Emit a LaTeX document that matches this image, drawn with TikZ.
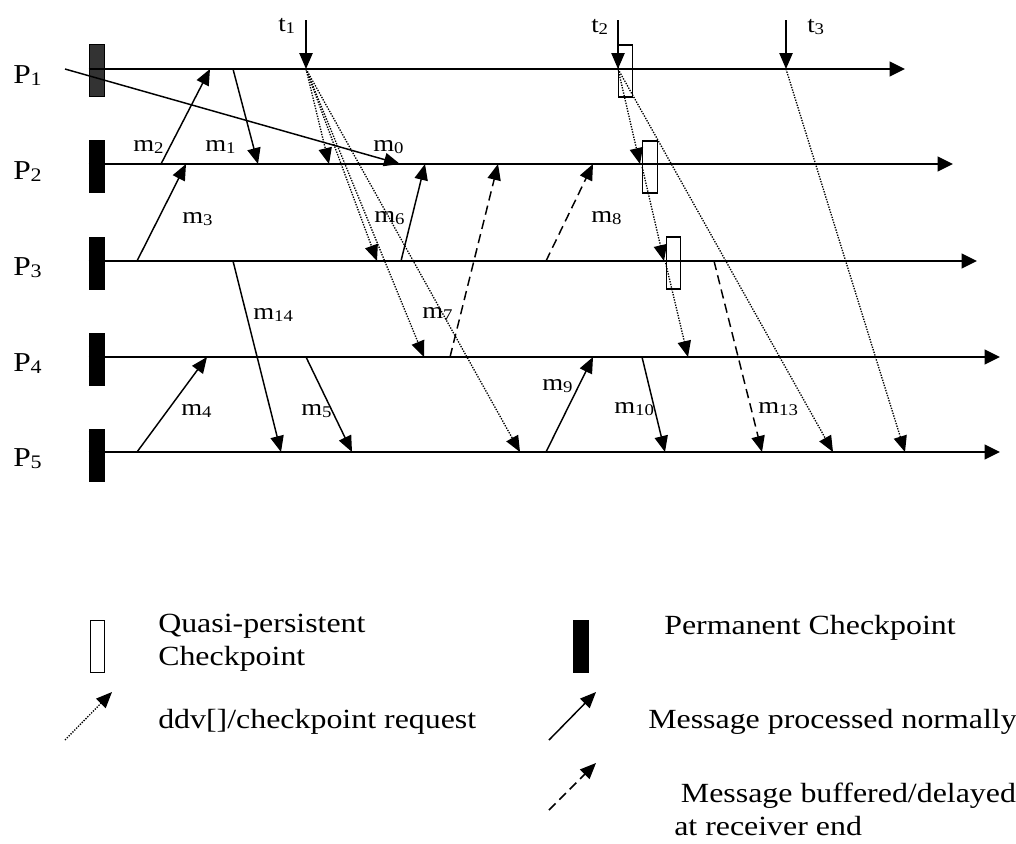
\documentclass[tikz,border=0pt]{standalone}
\usepackage{fontspec}
\setmainfont{Liberation Serif}[FakeStretch=1.15]
\usepackage{tikz}
\usetikzlibrary{arrows.meta}
\newcommand{\sbs}[1]{\raisebox{-0.1em}{\scalebox{0.7}{#1}}}
\tikzstyle{permcp} = [rectangle, draw=black, fill=black, minimum width=11.25pt, minimum height=39pt, inner sep=0pt]
\tikzstyle{quasicp} = [rectangle, draw=black, line width=0.8pt, fill=white, minimum width=11pt, minimum height=39pt, inner sep=0pt]
\tikzstyle{timeline} = [line width=1.5pt, -{Triangle[length=11.5pt,width=11pt]}]
\tikzstyle{arrow} = [line width=1.1pt, -{Triangle[length=12pt,width=10pt]}]
\tikzstyle{buffered} = [arrow, dash pattern=on 7pt off 4pt]
\tikzstyle{request} = [line width=1pt, dash pattern=on 1pt off 1pt, -{Triangle[length=12pt,width=10pt]}]
\tikzstyle{plabel} = [anchor=base west, inner sep=0pt, font=\fontsize{20.5}{24}\selectfont]
\tikzstyle{mlabel} = [anchor=base west, inner sep=0pt, font=\fontsize{17.5}{21}\selectfont]
\tikzstyle{legendtext} = [anchor=base west, inner sep=0pt, align=left, font=\fontsize{20.8}{24.75}\selectfont]

\begin{document}
\begin{tikzpicture}[x=0.75pt, y=-0.75pt]
    \useasboundingbox (0,0) rectangle (1016,843);
    \node (C1) [permcp, fill=black!80] at (96.5,70) {};
    \node (C2) [permcp] at (96.5,166) {};
    \node (C3) [permcp] at (96.5,263) {};
    \node (C4) [permcp] at (96.5,359) {};
    \node (C5) [permcp] at (96.5,455) {};
    \node (P1) [plabel] at (13,83) {P\sbs{1}};
    \node (P2) [plabel] at (13,179) {P\sbs{2}};
    \node (P3) [plabel] at (13,275) {P\sbs{3}};
    \node (P4) [plabel] at (13,371) {P\sbs{4}};
    \node (P5) [plabel] at (13,466) {P\sbs{5}};
    \coordinate (E1) at (905,69);
    \coordinate (E2) at (953,164);
    \coordinate (E3) at (977,261);
    \coordinate (E4) at (1000,357);
    \coordinate (E5) at (1000,452);
    \node (Q1) [quasicp] at (625.5,71) {};
    \node (Q2) [quasicp] at (650,167) {};
    \node (Q3) [quasicp] at (673.5,263) {};
    \draw [timeline] (C1.west |- E1) -- (E1);
    \draw [timeline] (C2.west |- E2) -- (E2);
    \draw [timeline] (C3.west |- E3) -- (E3);
    \draw [timeline] (C4.west |- E4) -- (E4);
    \draw [timeline] (C5.west |- E5) -- (E5);

    \coordinate (t1top) at (306,20);
    \coordinate (T1) at (306,69);
    \coordinate (t2top) at (618,20);
    \coordinate (T2) at (618,69);
    \coordinate (t3top) at (786,20);
    \coordinate (T3) at (786,69);
    \draw [arrow] (t1top) -- (T1);
    \draw [arrow] (t2top) -- (T2);
    \draw [arrow] (t3top) -- (T3);
    \node (lt1) [mlabel] at (278,31) {t\sbs{1}};
    \node (lt2) [mlabel] at (591,32) {t\sbs{2}};
    \node (lt3) [mlabel] at (807,32) {t\sbs{3}};

    \coordinate (m0s) at (65,69);    \coordinate (m0e) at (400,164);
    \coordinate (m1s) at (233,69);   \coordinate (m1e) at (258,164);
    \coordinate (m2s) at (161,164);  \coordinate (m2e) at (210,69);
    \coordinate (m3s) at (137,261);  \coordinate (m3e) at (186,164);
    \coordinate (m4s) at (137,452);  \coordinate (m4e) at (207,357);
    \coordinate (m5s) at (306,357);  \coordinate (m5e) at (352,452);
    \coordinate (m6s) at (401,261);  \coordinate (m6e) at (425,164);
    \coordinate (m7s) at (450,357);  \coordinate (m7e) at (498,164);
    \coordinate (m8s) at (546,261);  \coordinate (m8e) at (593,164);
    \coordinate (m9s) at (546,452);  \coordinate (m9e) at (593,357);
    \coordinate (m10s) at (642,357); \coordinate (m10e) at (665,452);
    \coordinate (m13s) at (714,261); \coordinate (m13e) at (762,452);
    \coordinate (m14s) at (233,261); \coordinate (m14e) at (281,452);
    \draw [arrow] (m0s) -- (m0e);
    \draw [arrow] (m1s) -- (m1e);
    \draw [arrow] (m2s) -- (m2e);
    \draw [arrow] (m3s) -- (m3e);
    \draw [arrow] (m4s) -- (m4e);
    \draw [arrow] (m5s) -- (m5e);
    \draw [arrow] (m6s) -- (m6e);
    \draw [buffered] (m7s) -- (m7e);
    \draw [buffered] (m8s) -- (m8e);
    \draw [arrow] (m9s) -- (m9e);
    \draw [arrow] (m10s) -- (m10e);
    \draw [buffered] (m13s) -- (m13e);
    \draw [arrow] (m14s) -- (m14e);
    \node (lm0) [mlabel] at (373,151) {m\sbs{0}};
    \node (lm1) [mlabel] at (205,151) {m\sbs{1}};
    \node (lm2) [mlabel] at (133,151) {m\sbs{2}};
    \node (lm3) [mlabel] at (182,223) {m\sbs{3}};
    \node (lm4) [mlabel] at (181,415) {m\sbs{4}};
    \node (lm5) [mlabel] at (301,415) {m\sbs{5}};
    \node (lm6) [mlabel] at (374,222) {m\sbs{6}};
    \node (lm7) [mlabel] at (422,318) {m\sbs{7}};
    \node (lm8) [mlabel] at (591,222) {m\sbs{8}};
    \node (lm9) [mlabel] at (542,390) {m\sbs{9}};
    \node (lm10) [mlabel] at (614,413) {m\sbs{10}};
    \node (lm13) [mlabel] at (758,413) {m\sbs{13}};
    \node (lm14) [mlabel] at (253,319) {m\sbs{14}};

    \coordinate (r1) at (329,164);
    \coordinate (r2) at (377,261);
    \coordinate (r3) at (424,357);
    \coordinate (r4) at (520,452);
    \coordinate (r5) at (640,164);
    \coordinate (r6) at (833,452);
    \coordinate (r7) at (664,261);
    \coordinate (r8) at (688,357);
    \coordinate (r9) at (905,452);
    \draw [request] (T1) -- (r1);
    \draw [request] (T1) -- (r2);
    \draw [request] (T1) -- (r3);
    \draw [request] (T1) -- (r4);
    \draw [request] (T2) -- (r5);
    \draw [request] (T2) -- (r6);
    \draw [request] (Q2.west) -- (r7);
    \draw [request] (Q3.west) -- (r8);
    \draw [request] (T3) -- (r9);

    \node (LQ) [quasicp] at (97.5,646.5) {};
    \node (LQt) [legendtext] at (158,665) {Quasi-persistent\\Checkpoint};
    \node (LP) [permcp] at (581,646.5) {};
    \node (LPt) [legendtext] at (664,634) {Permanent Checkpoint};
    \coordinate (LRs) at (65,740);   \coordinate (LRe) at (112,692);
    \coordinate (LMs) at (549,740);  \coordinate (LMe) at (596,692);
    \coordinate (LBs) at (549,810);  \coordinate (LBe) at (596,763);
    \draw [request] (LRs) -- (LRe);
    \draw [arrow] (LMs) -- (LMe);
    \draw [buffered] (LBs) -- (LBe);
    \node (LRt) [legendtext] at (158,728) {ddv[]/checkpoint request};
    \node (LMt) [legendtext] at (648,728) {Message processed normally};
    \node (LBt) [legendtext] at (674,835) {\hspace{5pt}Message buffered/delayed\\at receiver end};
\end{tikzpicture}
\end{document}
